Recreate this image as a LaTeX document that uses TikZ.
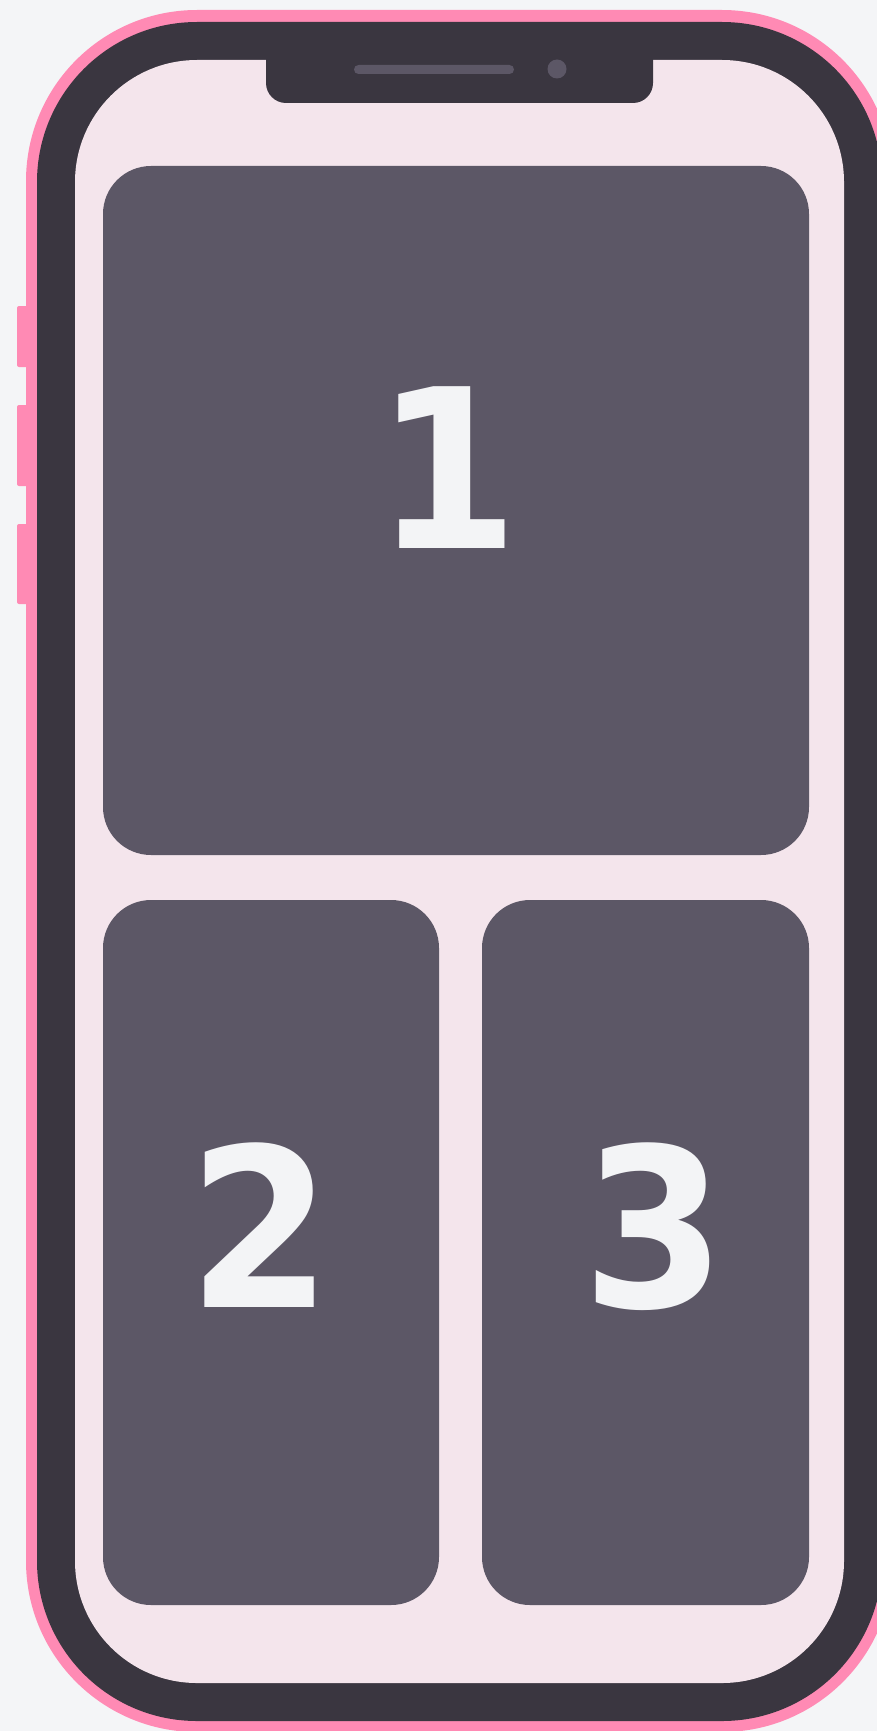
\documentclass[tikz,border=0pt]{standalone}
\usepackage{fontspec}
\usepackage{graphicx}
\setmainfont{DejaVu Sans}
\definecolor{bgc}{HTML}{F4F5F7}
\definecolor{pinkc}{HTML}{FF8AB4}
\definecolor{darkc}{HTML}{3A3640}
\definecolor{screenc}{HTML}{F4E5EC}
\definecolor{tilec}{HTML}{5C5766}
\definecolor{detailc}{HTML}{5C5766}
\definecolor{textc}{HTML}{F3F4F6}
\newcommand{\dig}[1]{\scalebox{0.93}[1]{#1}}
\tikzset{
  tile/.style={fill=tilec, rounded corners=48pt},
  digit/.style={text=textc, font=\fontsize{222}{222}\selectfont\bfseries, inner sep=0pt, anchor=base},
  sidebtn/.style={fill=pinkc, rounded corners=2pt},
}
\begin{document}
\begin{tikzpicture}[x=1pt,y=-1pt]
  \useasboundingbox (0,0) rectangle (877,1731);
  \clip (0,0) rectangle (877,1731);
  \fill[bgc] (0,0) rectangle (877,1731);
  % side buttons
  \fill[sidebtn] (17,306) rectangle (30,367);
  \fill[sidebtn] (17,405) rectangle (30,486);
  \fill[sidebtn] (17,524) rectangle (30,604);
  % phone body
  \fill[pinkc, rounded corners=171pt] (26,10) rectangle (893,1732);
  \fill[darkc, rounded corners=160pt] (37,22) rectangle (882,1721);
  \fill[screenc, rounded corners=122pt] (75,60) rectangle (844,1683);
  % notch
  \fill[darkc, rounded corners=20pt] (266,38) rectangle (653,103);
  \fill[detailc, rounded corners=4.5pt] (354,65) rectangle (514,74);
  \fill[detailc] (557,69) circle[radius=9.5pt];
  % tiles
  \fill[tile] (103,166) rectangle (809,855);
  \fill[tile] (103,900) rectangle (439,1605);
  \fill[tile] (482,900) rectangle (809,1605);
  % labels
  \node[digit] (one) at (447,548) {\dig{1}};
  \node[digit] (two) at (260,1307) {\dig{2}};
  \node[digit] (three) at (654,1307) {\dig{3}};
\end{tikzpicture}
\end{document}
